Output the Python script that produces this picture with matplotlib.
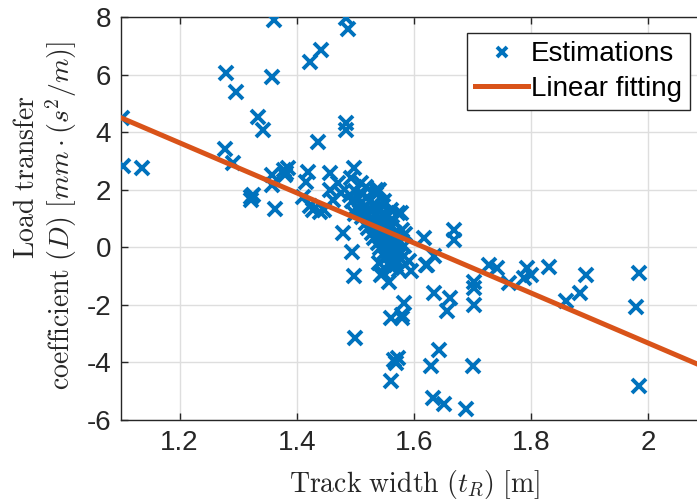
import matplotlib
matplotlib.use("Agg")
import matplotlib.pyplot as plt

# ---- data ----
est_x = [1.101, 1.103, 1.136, 1.279, 1.296, 1.334, 1.342, 1.278, 1.291, 1.322, 1.322, 1.325,
         1.361, 1.357, 1.363, 1.357, 1.357, 1.379, 1.382, 1.385, 1.380, 1.422, 1.442, 1.484,
         1.487, 1.484, 1.484, 1.436, 1.419, 1.416, 1.410, 1.422, 1.427, 1.440, 1.456, 1.456,
         1.461, 1.447, 1.478, 1.498, 1.470, 1.476, 1.494, 1.498, 1.500, 1.557, 1.560, 1.566,
         1.569, 1.560, 1.583, 1.580, 1.580, 1.572, 1.620, 1.595, 1.634, 1.629, 1.632, 1.541,
         1.547, 1.572, 1.578, 1.617, 1.668, 1.668, 1.634, 1.623, 1.661, 1.656, 1.703, 1.703,
         1.703, 1.728, 1.742, 1.762, 1.793, 1.799, 1.788, 1.830, 1.859, 1.884, 1.893, 1.984,
         1.978, 1.984, 1.643, 1.700, 1.652, 1.688, 1.541, 1.592, 1.583, 1.580, 1.563, 1.543,
         1.569, 1.510, 1.518, 1.535, 1.493, 1.538, 1.547,
         1.500, 1.512, 1.505, 1.520, 1.495, 1.510, 1.525, 1.530, 1.502, 1.515,
         1.528, 1.540, 1.508, 1.520, 1.535, 1.548, 1.512, 1.525, 1.540, 1.553,
         1.518, 1.530, 1.545, 1.558, 1.522, 1.535, 1.550, 1.563, 1.528, 1.540,
         1.555, 1.568, 1.532, 1.545, 1.558, 1.572, 1.538, 1.550, 1.562, 1.575,
         1.542, 1.555, 1.567, 1.548, 1.560, 1.572, 1.552, 1.565, 1.578, 1.558,
         1.570, 1.562, 1.575, 1.535, 1.548, 1.490, 1.500, 1.560, 1.565, 1.585]
est_y = [4.49, 2.84, 2.75, 6.07, 5.39, 4.52, 4.06, 3.42, 2.92, 1.75, 1.65, 1.80,
         7.88, 5.93, 1.33, 2.52, 2.17, 2.69, 2.58, 2.75, 2.50, 6.45, 6.86, 7.96,
         7.58, 4.31, 4.06, 3.67, 2.63, 2.28, 1.76, 1.42, 1.30, 1.23, 2.58, 2.00,
         1.65, 1.30, 0.50, 2.75, 2.23, 1.88, -0.15, -1.01, -3.15, -1.19, -2.46, -3.90,
         -4.02, -4.66, -1.94, -2.46, -2.34, -3.85, -0.61, -0.84, -1.59, -4.14, -5.24, -0.55,
         -0.90, 1.19, 1.19, 0.32, 0.61, 0.26, -0.32, -0.61, -1.77, -2.23, -1.19, -1.42,
         -2.00, -0.61, -0.72, -1.24, -0.72, -0.95, -1.07, -0.67, -1.88, -1.59, -0.95, -0.90,
         -2.06, -4.83, -3.56, -4.14, -5.43, -5.62, 2.00, -0.49, 0.03, 0.61, -0.60, -0.95,
         -0.43, 2.23, 2.11, 2.00, 2.40, 1.94, 1.42,
         1.95, 1.85, 1.70, 1.75, 1.60, 1.55, 1.62, 1.48, 1.40, 1.35,
         1.30, 1.38, 1.22, 1.15, 1.10, 1.20, 1.05, 0.98, 0.92, 1.02,
         0.85, 0.80, 0.75, 0.85, 0.68, 0.62, 0.58, 0.70, 0.50, 0.45,
         0.40, 0.50, 0.32, 0.28, 0.22, 0.30, 0.15, 0.10, 0.05, 0.15,
         -0.02, -0.08, -0.12, -0.20, -0.25, -0.30, -0.38, -0.45, -0.40, -0.55,
         -0.62, -0.72, -0.78, 1.85, 1.60, 1.80, 1.15, 1.30, 0.95, 0.45]
fit_x = [1.1, 2.1]
fit_y = [4.5, -4.2]

x_ticks = [1.2, 1.4, 1.6, 1.8, 2.0]
x_ticklabels = ["1.2", "1.4", "1.6", "1.8", "2"]
y_ticks = [-6, -4, -2, 0, 2, 4, 6, 8]
y_ticklabels = ["-6", "-4", "-2", "0", "2", "4", "6", "8"]

plt.rcParams["mathtext.fontset"] = "cm"
plt.rcParams["font.family"] = ["Liberation Sans", "DejaVu Sans"]

W, H = 697, 504
fig = plt.figure(figsize=(W / 100, H / 100), dpi=100)
ax = fig.add_axes([121 / W, 1 - 420 / H, (707 - 121) / W, (420 - 17) / H])

blue = "#0072BD"
orange = "#D95319"
dark = "#262626"

ax.plot(est_x, est_y, linestyle="none", marker="x", color=blue, markersize=10,
        markeredgewidth=2.8, label="Estimations", zorder=3)
ax.plot(fit_x, fit_y, color=orange, linewidth=3.6, label="Linear fitting", zorder=4)

ax.set_xlim(1.1, 2.1)
ax.set_ylim(-6, 8)
ax.set_xticks(x_ticks)
ax.set_xticklabels(x_ticklabels)
ax.set_yticks(y_ticks)
ax.set_yticklabels(y_ticklabels)
ax.grid(True, color="#dedede", linewidth=1.0)
ax.set_axisbelow(True)
ax.tick_params(direction="in", top=True, right=True, length=5, width=1.0,
               colors=dark, labelsize=20, pad=7)
for s in ax.spines.values():
    s.set_color(dark)
    s.set_linewidth(1.0)

ax.set_xlabel(r"$\mathrm{Track\ width}\ (t_R)\ [\mathrm{m}]$", fontsize=20, color=dark, labelpad=9)

fig.text(27 / W, 1 - 177 / H, r"$\mathrm{Load\ transfer}$", rotation=90,
         ha="center", va="center", fontsize=20, color=dark)
fig.text(61 / W, 1 - 216 / H, r"$\mathrm{coefficient}\ (D)\ [mm\cdot(s^2/m)]$", rotation=90,
         ha="center", va="center", fontsize=20, color=dark)

leg = ax.legend(loc="upper right", bbox_to_anchor=(690 / W, 1 - 33 / H),
                bbox_transform=fig.transFigure, fontsize=20,
                fancybox=False, framealpha=1, edgecolor=dark, borderpad=0.3,
                handlelength=1.9, handletextpad=0.1, labelspacing=0.3, borderaxespad=0,
                markerscale=0.7)
leg.get_frame().set_linewidth(1.0)

fig.savefig("out.png", dpi=100)
